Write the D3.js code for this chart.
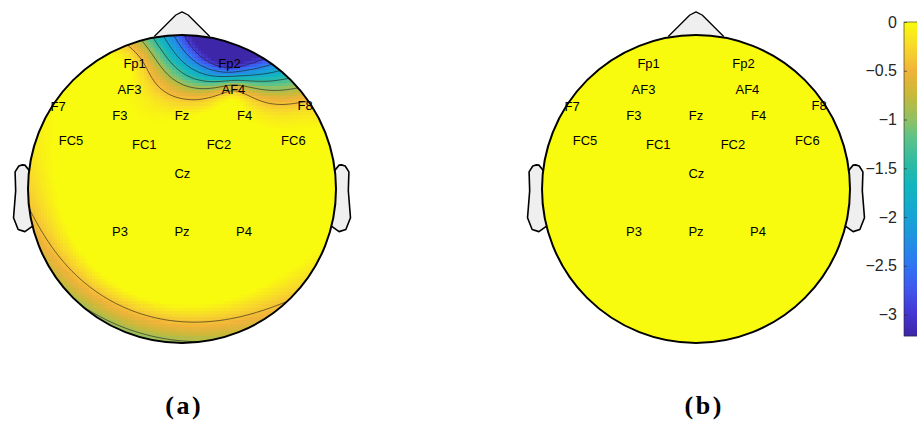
<!DOCTYPE html>
<html>
<head>
<meta charset="utf-8">
<script src="https://cdn.jsdelivr.net/npm/d3@7"></script>
<style>
  body { margin: 0; background: #fff; }
  svg { display: block; }
</style>
</head>
<body>
<svg id="fig" width="917" height="423"></svg>
<script>
// Electrode montage (normalised head coordinates, +y towards the back of the head)
const channels = ["Fp1", "Fp2", "AF3", "AF4", "F7", "F8", "F3", "Fz", "F4",
                  "FC5", "FC1", "FC2", "FC6", "Cz", "P3", "Pz", "P4"];
const chanX = [-0.308, 0.308, -0.341, 0.334, -0.805, 0.800, -0.403, 0.000, 0.406,
               -0.721, -0.245, 0.240, 0.723, 0.002, -0.403, 0.000, 0.403];
const chanY = [-0.815, -0.815, -0.644, -0.644, -0.536, -0.540, -0.479, -0.479, -0.479,
               -0.312, -0.286, -0.286, -0.312, -0.101, 0.274, 0.274, 0.274];

// Channel values for each map
const valuesA = [-0.15, -3.35, -0.02, -0.45, 0.00, -0.30, 0.02, -0.05, 0.00,
                 0.08, 0.08, 0.06, 0.03, 0.25, 0.62, 0.92, 0.52];
const valuesB = [0, 0, 0, 0, 0, 0, 0, 0, 0,
                 0, 0, 0, 0, 0, 0, 0, 0];

const panelLabels = ["(a)", "(b)"];
const colorLimits = [-3.22, 0];
const colorTicks = [0, -0.5, -1, -1.5, -2, -2.5, -3];
const contourLevels = [-0.4, -0.9, -1.4, -1.9, -2.4, -2.9];

// Parula-style colour ramp (position along the colour limits -> colour)
const rampStops = [0, 0.08, 0.16, 0.24, 0.32, 0.40, 0.48, 0.55, 0.63, 0.69, 0.77, 0.845, 0.92, 1];
const rampColors = ["#3e26a8", "#4539d5", "#3f5cf0", "#2d7bf0", "#1f95e0", "#16a8d2", "#12b6bf",
                    "#2ebba4", "#5cc28a", "#90c164", "#c9b93a", "#f1b33a", "#f8d72c", "#f9fb0e"];

const svg = d3.select("#fig");
const R = 154;
const heads = [{ cx: 182, cy: 189, values: valuesA, label: panelLabels[0], lx: 183 },
               { cx: 696, cy: 189, values: valuesB, label: panelLabels[1], lx: 703 }];

const color = d3.scaleLinear()
  .domain(rampStops.map(t => colorLimits[0] + t * (colorLimits[1] - colorLimits[0])))
  .range(rampColors)
  .interpolate(d3.interpolateRgb)
  .clamp(true);

// Biharmonic spline interpolation (Green's function r^2 (ln r - 1))
function green(d) { return d === 0 ? 0 : d * d * (Math.log(d) - 1); }
function solve(A, b) {
  const n = b.length;
  const M = A.map((row, i) => row.concat([b[i]]));
  for (let c = 0; c < n; c++) {
    let p = c;
    for (let r = c + 1; r < n; r++) if (Math.abs(M[r][c]) > Math.abs(M[p][c])) p = r;
    [M[c], M[p]] = [M[p], M[c]];
    for (let r = c + 1; r < n; r++) {
      const f = M[r][c] / M[c][c];
      for (let k = c; k <= n; k++) M[r][k] -= f * M[c][k];
    }
  }
  const x = new Array(n).fill(0);
  for (let r = n - 1; r >= 0; r--) {
    let s = M[r][n];
    for (let k = r + 1; k < n; k++) s -= M[r][k] * x[k];
    x[r] = s / M[r][r];
  }
  return x;
}
function biharmonic(xs, ys, vs) {
  const A = xs.map((_, i) => xs.map((_, j) => green(Math.hypot(xs[i] - xs[j], ys[i] - ys[j]))));
  const w = solve(A, vs.slice());
  return (x, y) => {
    let s = 0;
    for (let j = 0; j < xs.length; j++) s += w[j] * green(Math.hypot(x - xs[j], y - ys[j]));
    return s;
  };
}

// Interpolation grid
const N = 100, G0 = -1.03, G1 = 1.03, step = (G1 - G0) / (N - 1);

// Head outline geometry
const earPts = [[0.984, -0.111], [1.02, -0.155], [1.036, -0.1566], [1.0598, -0.1492], [1.0838, -0.111],
                [1.08, 0.011], [1.094, 0.1864], [1.064, 0.2626], [1.02, 0.2768], [0.968, 0.2398]];
const nosePts = [[0.18, -0.99], [0.04, -1.13], [0, -1.15], [-0.04, -1.13], [-0.18, -0.99]];

const defs = svg.append("defs");
const layerOutline = svg.append("g");
const layerMap = svg.append("g");
const layerTop = svg.append("g");

heads.forEach((h, hi) => {
  const s = d3.scaleLinear().domain([-1, 1]).range([-R, R]);
  const line = d3.line().x(d => s(d[0])).y(d => s(d[1]));

  // ears and nose
  const g0 = layerOutline.append("g").attr("transform", `translate(${h.cx},${h.cy})`);
  [earPts, earPts.map(p => [-p[0], p[1]])].forEach(pts => {
    g0.append("path").attr("d", line(pts))
      .attr("fill", "#efefef").attr("stroke", "#000").attr("stroke-width", 1.6)
      .attr("stroke-linejoin", "round");
  });
  g0.append("path").attr("d", line(nosePts))
    .attr("fill", "#efefef").attr("stroke", "#000").attr("stroke-width", 1.3)
    .attr("stroke-linejoin", "round");

  const clipId = "head" + hi;
  defs.append("clipPath").attr("id", clipId)
    .append("circle").attr("cx", h.cx).attr("cy", h.cy).attr("r", R);

  const field = biharmonic(chanX, chanY, h.values);
  const grid = new Float64Array(N * N);
  for (let j = 0; j < N; j++)
    for (let i = 0; i < N; i++)
      grid[i + j * N] = field(G0 + i * step, G0 + j * step);

  const map = layerMap.append("g").attr("clip-path", `url(#${clipId})`)
    .append("g").attr("transform", `translate(${h.cx},${h.cy})`);
  const cw = s(step) - s(0);
  const cells = [];
  for (let j = 0; j < N; j++)
    for (let i = 0; i < N; i++) cells.push({ i, j, v: grid[i + j * N] });
  map.selectAll("rect").data(cells).join("rect")
    .attr("x", d => s(G0 + d.i * step) - cw / 2)
    .attr("y", d => s(G0 + d.j * step) - cw / 2)
    .attr("width", cw + 0.6).attr("height", cw + 0.6)
    .attr("fill", d => color(d.v))
    .attr("shape-rendering", "crispEdges");

  // contour lines
  const gs = c => s(G0 + (c - 0.5) * step);
  const proj = d3.geoTransform({ point(x, y) { this.stream.point(gs(x), gs(y)); } });
  const path = d3.geoPath(proj);
  const contours = d3.contours().size([N, N]).thresholds(contourLevels)(Array.from(grid));
  map.selectAll("path.iso").data(contours).join("path")
    .attr("class", "iso")
    .attr("d", path)
    .attr("fill", "none").attr("stroke", "#1a1a1a").attr("stroke-width", 0.6);

  // head circle and electrode labels
  const g = layerTop.append("g").attr("transform", `translate(${h.cx},${h.cy})`);
  g.append("circle").attr("r", R).attr("fill", "none")
    .attr("stroke", "#000").attr("stroke-width", 2);
  g.selectAll("text.ch").data(channels).join("text")
    .attr("class", "ch")
    .attr("x", (d, k) => s(chanX[k]))
    .attr("y", (d, k) => s(chanY[k]))
    .attr("text-anchor", "middle")
    .attr("dominant-baseline", "central")
    .attr("font-family", "Liberation Sans, Arial, sans-serif")
    .attr("font-size", 13)
    .attr("fill", "#000")
    .text(d => d);

  layerTop.append("text")
    .attr("x", h.lx + 1.25).attr("y", 414)
    .attr("text-anchor", "middle")
    .attr("font-family", "Liberation Serif, Times New Roman, serif")
    .attr("font-weight", "bold")
    .attr("font-size", 26)
    .attr("letter-spacing", 2.5)
    .text(h.label);
});

// colour bar
const cbX = 904, cbW = 20, cbTop = 22, cbBot = 336;
const cy = d3.scaleLinear().domain(colorLimits).range([cbBot, cbTop]);
const cb = svg.append("g");
const barVals = d3.range(cbBot, cbTop, -1).map(px => cy.invert(px - 0.5));
cb.selectAll("rect").data(barVals).join("rect")
  .attr("x", cbX).attr("width", cbW)
  .attr("y", d => cy(d) - 0.5).attr("height", 1.2)
  .attr("fill", d => color(d));
cb.append("rect").attr("x", cbX).attr("y", cbTop).attr("width", cbW).attr("height", cbBot - cbTop)
  .attr("fill", "none").attr("stroke", "#262626").attr("stroke-width", 0.6);
const axis = d3.axisLeft(cy).tickValues(colorTicks).tickSize(-3).tickPadding(7)
  .tickFormat(d => d === 0 ? "0" : "\u2212" + Math.abs(d));
const ax = svg.append("g").attr("transform", `translate(${cbX},0)`).call(axis);
ax.select(".domain").remove();
ax.selectAll("line").attr("stroke", "#262626").attr("stroke-width", 0.6);
ax.selectAll("text").attr("font-family", "Liberation Sans, Arial, sans-serif")
  .attr("font-size", 16).attr("fill", "#262626");
</script>
</body>
</html>
